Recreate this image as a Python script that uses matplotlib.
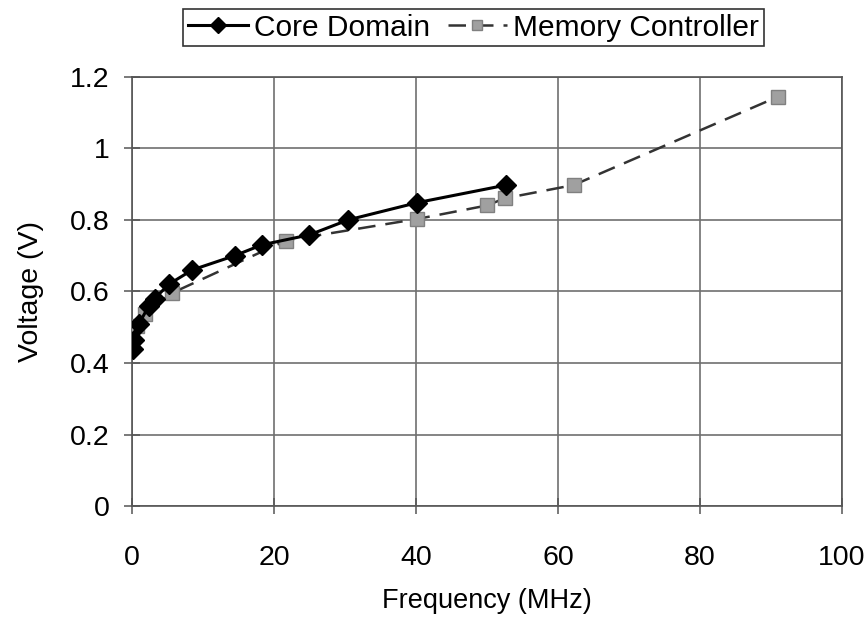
import matplotlib
matplotlib.use("Agg")
import matplotlib.pyplot as plt

plt.rcParams['font.family'] = ['Liberation Sans', 'DejaVu Sans']

# --- dados ---
core_freq = [0.1, 0.3, 1.0, 2.4, 3.2, 5.2, 8.5, 14.5, 18.3, 25.0, 30.5, 40.2, 52.7]
core_volt = [0.44, 0.465, 0.51, 0.56, 0.58, 0.62, 0.66, 0.70, 0.73, 0.758, 0.80, 0.848, 0.897]

mem_freq = [0.7, 1.8, 5.6, 21.7, 40.1, 50.0, 52.5, 62.2, 91.0]
mem_volt = [0.503, 0.537, 0.595, 0.742, 0.802, 0.84, 0.86, 0.897, 1.144]

x_ticks = [0, 20, 40, 60, 80, 100]
y_ticks = [0, 0.2, 0.4, 0.6, 0.8, 1.0, 1.2]
y_labels = ['0', '0.2', '0.4', '0.6', '0.8', '1', '1.2']

fig = plt.figure(figsize=(8.68, 6.28), dpi=100)
ax = fig.add_axes([0.152, 0.194, 0.818, 0.684])

ax.plot(core_freq, core_volt, color='black', lw=2.2, marker='D', ms=10.5,
        mfc='black', mec='black', label='Core Domain', zorder=4)
ax.plot(mem_freq, mem_volt, color='#333333', lw=1.8, ls=(0, (7, 4)), marker='s', ms=10,
        mfc='#a0a0a0', mec='#808080', label='Memory Controller', zorder=3)

ax.set_xlim(0, 100)
ax.set_ylim(0, 1.2)
ax.set_xticks(x_ticks)
ax.set_yticks(y_ticks)
ax.set_yticklabels(y_labels)
ax.grid(True, color='#707070', lw=1.2)
ax.set_axisbelow(True)
for s in ax.spines.values():
    s.set_color('#555555')
    s.set_linewidth(1.2)
ax.tick_params(direction='inout', length=12, width=1.1, color='#555555',
               labelsize=20.5, pad=10)
ax.tick_params(axis='x', pad=22)

ax.set_xlabel('Frequency (MHz)', fontsize=19.5, labelpad=12)
ax.set_ylabel('Voltage (V)', fontsize=20.5, labelpad=19)

leg = ax.legend(loc='center', bbox_to_anchor=(0.5455, 0.956), bbox_transform=fig.transFigure,
                ncol=2, fontsize=21.5, frameon=True, fancybox=False, handlelength=2.0,
                columnspacing=0.6, handletextpad=0.2, borderpad=0.15, borderaxespad=0,
                markerscale=0.75)
leg.get_frame().set_edgecolor('black')
leg.get_frame().set_linewidth(1.2)

fig.savefig('out.png', dpi=100)
